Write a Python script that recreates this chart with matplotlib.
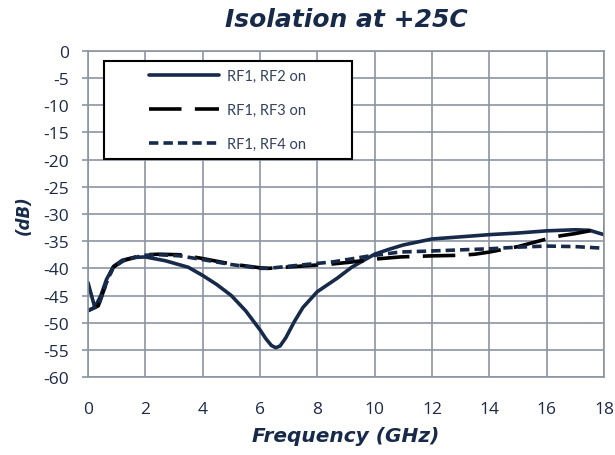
import matplotlib.pyplot as plt
from matplotlib.patches import Rectangle

plt.rcParams['axes.unicode_minus'] = False

# frequency (GHz) and isolation (dB)
freq_rf2 = [0, 0.24, 0.45, 0.65, 0.9, 1.2, 1.6, 2.0, 2.7, 3.5, 4.0, 4.5, 5.0, 5.5, 6.0, 6.2, 6.4, 6.55, 6.7, 6.9, 7.2, 7.5, 8.0, 8.7, 9.2, 9.7, 10.0, 10.5, 11.0, 12.0, 13.0, 14.0, 15.0, 16.0, 17.0, 17.5, 18.0]
iso_rf2 = [-42.6, -47.2, -45.0, -42.0, -39.6, -38.5, -38.0, -37.9, -38.6, -39.8, -41.3, -43.0, -45.0, -47.8, -51.3, -52.9, -54.2, -54.6, -54.3, -52.8, -49.8, -47.2, -44.3, -41.8, -39.8, -38.3, -37.4, -36.5, -35.7, -34.6, -34.2, -33.8, -33.5, -33.1, -32.9, -33.0, -33.8]

freq_rf3 = [0, 0.36, 0.65, 0.88, 1.23, 1.93, 2.5, 3.2, 3.9, 5.0, 6.0, 6.3, 7.4, 8.5, 9.1, 10.0, 10.9, 12.0, 13.0, 13.5, 14.0, 14.5, 15.0, 15.5, 16.0, 16.5, 17.0, 17.5, 18.0]
iso_rf3 = [-47.8, -46.9, -42.6, -39.8, -38.6, -37.5, -37.4, -37.5, -38.1, -39.2, -39.9, -40.0, -39.6, -39.2, -38.9, -38.3, -37.9, -37.7, -37.6, -37.4, -37.0, -36.5, -36.0, -35.3, -34.6, -34.0, -33.6, -33.1, -32.5]

freq_rf4 = [0, 0.36, 0.65, 0.88, 1.23, 1.93, 2.5, 3.2, 3.9, 5.0, 6.0, 6.3, 7.4, 8.56, 9.72, 10.88, 12.0, 13.0, 14.0, 15.0, 16.0, 17.0, 18.0]
iso_rf4 = [-47.8, -46.9, -42.6, -39.8, -38.6, -37.6, -37.5, -37.7, -38.3, -39.3, -40.0, -40.0, -39.4, -38.8, -37.8, -37.0, -36.8, -36.6, -36.4, -36.1, -35.9, -36.0, -36.3]

series_labels = ['RF1, RF2 on', 'RF1, RF3 on', 'RF1, RF4 on']
x_ticks = list(range(0, 19, 2))
y_ticks = list(range(-60, 1, 5))

navy = '#172a4a'
grid_col = '#8c95a3'
text_col = '#1c2a45'

fig = plt.figure(figsize=(6.15, 4.56), dpi=100)
ax = fig.add_axes([0.143, 0.171, 0.839, 0.715])

ax.plot(freq_rf2, iso_rf2, color=navy, lw=2.6, label=series_labels[0], solid_capstyle='round')
ax.plot(freq_rf3, iso_rf3, color='black', lw=2.6, dashes=(9, 3.7), label=series_labels[1])
ax.plot(freq_rf4, iso_rf4, color=navy, lw=2.6, dashes=(2.6, 1.4), label=series_labels[2])

ax.set_xlim(0, 18)
ax.set_ylim(-60, 0)
ax.set_xticks(x_ticks)
ax.set_yticks(y_ticks)
ax.grid(True, color=grid_col, lw=1.2)
ax.set_axisbelow(True)
for s in ax.spines.values():
    s.set_color(grid_col)
    s.set_linewidth(1.2)
ax.tick_params(axis='both', direction='out', length=4.5, color=grid_col, width=1.2,
               labelsize=12.5, labelcolor=text_col)
ax.tick_params(axis='y', pad=9)
ax.tick_params(axis='x', length=0, pad=17)
for lbl in ax.get_xticklabels() + ax.get_yticklabels():
    lbl.set_family('Open Sans')

ax.set_title('Isolation at +25C', fontsize=18, fontweight='bold', style='italic',
             color=navy, pad=18)
ax.set_xlabel('Frequency (GHz)', fontsize=14.5, fontweight='bold', style='italic',
              color=navy, labelpad=7)
ax.set_ylabel('(dB)', fontsize=12, fontweight='bold', style='italic',
              color=navy, labelpad=8)

# legend frame drawn separately (wide padding on both sides)
ax.add_patch(Rectangle((0.031, 0.669), 0.481, 0.300, transform=ax.transAxes,
                       facecolor='white', edgecolor='black', lw=1.5, zorder=4))
leg = ax.legend(loc='upper left', bbox_to_anchor=(0.105, 0.968), handlelength=4.8,
                handletextpad=0.5, labelspacing=1.38, borderpad=0, frameon=False,
                prop={'family': 'Lato', 'size': 10.5})
leg.set_zorder(5)
for t in leg.get_texts():
    t.set_color('#33425e')

fig.savefig('out.png', dpi=100)
